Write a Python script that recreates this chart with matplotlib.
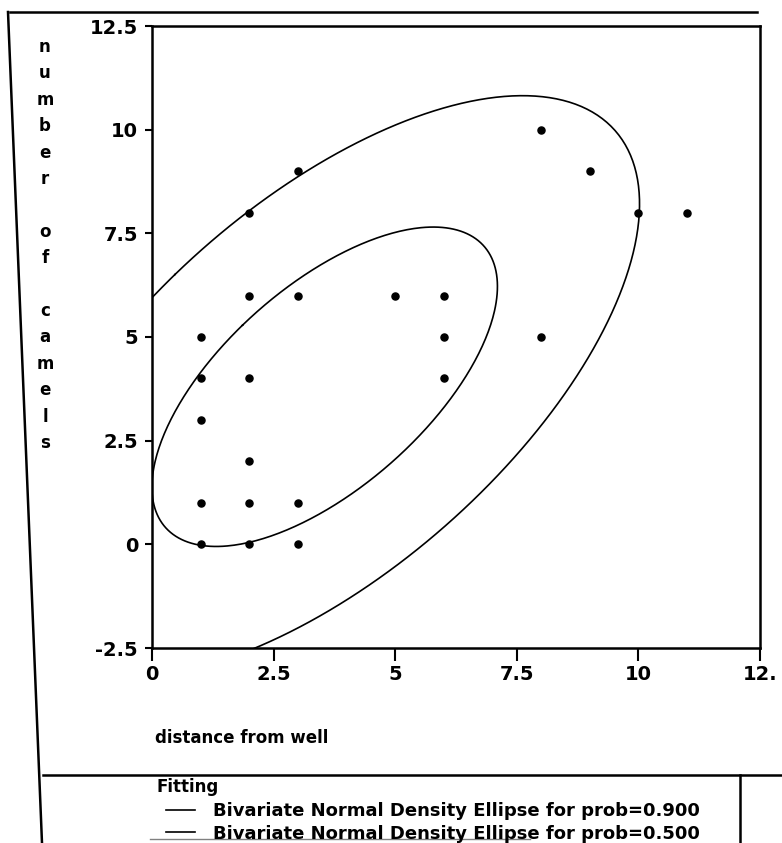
import numpy as np
import matplotlib
matplotlib.use("Agg")
import matplotlib.pyplot as plt
from matplotlib.lines import Line2D

distance = [1, 1, 1, 1, 1, 2, 2, 2, 2, 2, 2, 3, 3, 3, 3, 5, 6, 6, 6, 8, 8, 9, 10, 11]
camels = [0, 1, 3, 4, 5, 0, 1, 2, 4, 6, 8, 0, 1, 6, 9, 6, 4, 5, 6, 5, 10, 9, 8, 8]

# fitted bivariate normal (read from the drawn ellipses)
center = [3.55, 3.8]
cov = [[9.1, 6.2], [6.2, 10.7]]
probs = [0.900, 0.500]

xticks = [0, 2.5, 5, 7.5, 10, 12.5]
xticklabels = ["0", "2.5", "5", "7.5", "10", "12."]
yticks = [-2.5, 0, 2.5, 5, 7.5, 10, 12.5]
yticklabels = ["-2.5", "0", "2.5", "5", "7.5", "10", "12.5"]

plt.rcParams['font.family'] = ['DejaVu Sans']
plt.rcParams['font.weight'] = 'bold'

W, H = 782, 843
fig = plt.figure(figsize=(W/100, H/100), dpi=100)
ax = fig.add_axes([152/W, 1-648/H, (760-152)/W, (648-26)/H])

ax.scatter(distance, camels, s=26, color='black', zorder=3)

# ellipses from the covariance
vals, vecs = np.linalg.eigh(np.array(cov))
t = np.linspace(0, 2*np.pi, 400)
circle = np.vstack([np.cos(t), np.sin(t)])
handles = []
for p in probs:
    r = np.sqrt(-2*np.log(1-p))
    e = vecs @ (np.sqrt(vals)[:, None]*circle)*r
    line, = ax.plot(center[0]+e[0], center[1]+e[1], color='black', lw=1.2)
    handles.append(line)

ax.set_xlim(0, 12.5)
ax.set_ylim(-2.5, 12.5)
ax.set_xticks(xticks)
ax.set_xticklabels(xticklabels)
ax.set_yticks(yticks)
ax.set_yticklabels(yticklabels)
ax.tick_params(axis='x', direction='out', length=9, width=1.5, pad=3, labelsize=14)
ax.tick_params(axis='y', direction='out', length=5, width=1.5, pad=5, labelsize=14)
for s in ax.spines.values():
    s.set_linewidth(1.8)

# vertical stacked y label
fig.text(45/W, 1-245/H, "\n".join(list("number of camels")), ha='center', va='center',
         fontsize=12, linespacing=1.6)
fig.text(155/W, 1-738/H, "distance from well", ha='left', va='center', fontsize=12)

fig.text(157/W, 1-787/H, "Fitting", ha='left', va='center', fontsize=12)
leg = fig.legend(handles, ["Bivariate Normal Density Ellipse for prob=%.3f" % p for p in probs],
                 loc='upper left', bbox_to_anchor=(166/W, 1-802/H), frameon=False,
                 fontsize=13, handlelength=1.6, handletextpad=1.0, borderaxespad=0,
                 borderpad=0, labelspacing=0.25)
for txt in leg.get_texts():
    txt.set_fontweight('bold')

# outer report frame
frame = [((10, 757), (12, 12)), ((8, 42), (12, 843)), ((43, 782), (775, 775)),
         ((740, 740), (775, 843))]
for xs, ys in frame:
    fig.add_artist(Line2D([x/W for x in xs], [1-y/H for y in ys], color='black', lw=1.8))
fig.add_artist(Line2D([150/W, 530/W], [1-839/H, 1-839/H], color='0.5', lw=1.0))

fig.savefig("out.png", dpi=100)
